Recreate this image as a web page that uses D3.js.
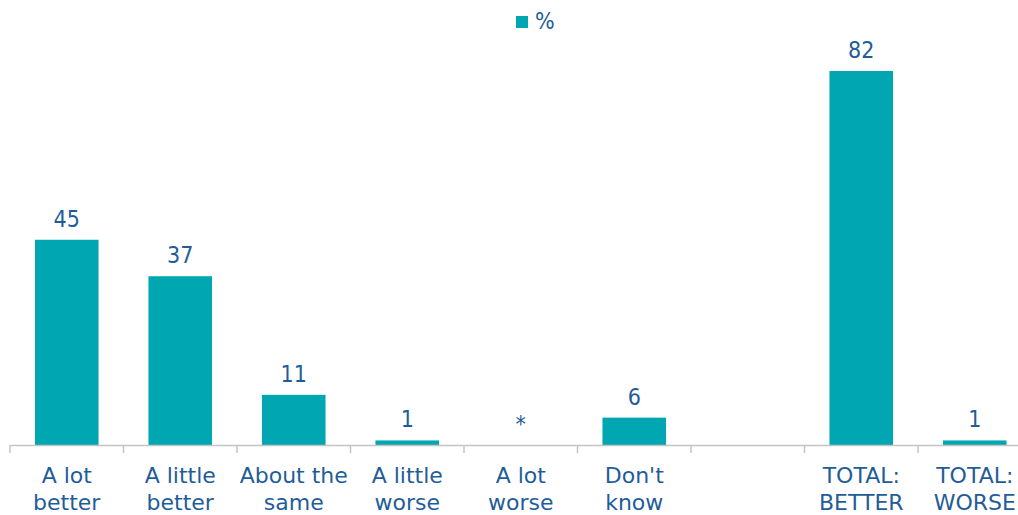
<!DOCTYPE html>
<html>
<head>
<meta charset="utf-8">
<script src="https://cdn.jsdelivr.net/npm/d3@7"></script>
<style>
  html, body { margin: 0; padding: 0; background: #ffffff; }
  svg { display: block; }
</style>
</head>
<body>
<div id="chart"></div>
<script>
const categories = [
  ["A lot", "better"],
  ["A little", "better"],
  ["About the", "same"],
  ["A little", "worse"],
  ["A lot", "worse"],
  ["Don't", "know"],
  ["", ""],
  ["TOTAL:", "BETTER"],
  ["TOTAL:", "WORSE"]
];
const values = [45, 37, 11, 1, 0, 6, null, 82, 1];
const valueLabels = ["45", "37", "11", "1", "*", "6", "", "82", "1"];
const seriesName = "%";

const W = 1018, H = 515;
const barColor = "#00a6b1";
const textColor = "#1f5d99";
const axisColor = "#c4c4c4";
const font = "'DejaVu Sans', sans-serif";
const fontCond = "'DejaVu Sans Condensed', 'DejaVu Sans', sans-serif";

const svg = d3.select("#chart").append("svg")
  .attr("width", W).attr("height", H);

const ids = categories.map((d, i) => i);
const x = d3.scaleBand().domain(ids).range([10, 1031.5]).paddingInner(0.44).paddingOuter(0.22);
const y = d3.scaleLinear().domain([0, 82]).range([445, 71]);

// bars
svg.append("g").selectAll("rect")
  .data(ids.filter(i => values[i] !== null && values[i] > 0))
  .join("rect")
  .attr("x", i => x(i))
  .attr("width", x.bandwidth())
  .attr("y", i => y(values[i]))
  .attr("height", i => y(0) - y(values[i]))
  .attr("fill", barColor);

// axis line and ticks at band boundaries
const step = x.step();
const start = x.range()[0];
const ax = svg.append("g").attr("stroke", axisColor).attr("stroke-width", 1.5);
ax.append("line").attr("x1", start).attr("x2", W).attr("y1", y(0) + 0.5).attr("y2", y(0) + 0.5);
d3.range(categories.length + 1).forEach(k => {
  const xx = start + k * step;
  ax.append("line").attr("x1", xx).attr("x2", xx).attr("y1", y(0)).attr("y2", y(0) + 8);
});

// value labels
svg.append("g").selectAll("text")
  .data(ids.filter(i => valueLabels[i] !== ""))
  .join("text")
  .attr("x", i => x(i) + x.bandwidth() / 2)
  .attr("y", i => y(values[i]) - 13)
  .attr("text-anchor", "middle")
  .attr("font-family", fontCond)
  .attr("font-size", 23)
  .attr("fill", textColor)
  .text(i => valueLabels[i]);

// category labels
const cl = svg.append("g").selectAll("text")
  .data(ids)
  .join("text")
  .attr("x", i => x(i) + x.bandwidth() / 2)
  .attr("text-anchor", "middle")
  .attr("font-family", font)
  .attr("font-size", 22)
  .attr("fill", textColor);
cl.append("tspan").attr("x", i => x(i) + x.bandwidth() / 2).attr("y", 483).text(i => categories[i][0]);
cl.append("tspan").attr("x", i => x(i) + x.bandwidth() / 2).attr("y", 510).text(i => categories[i][1]);

// legend
const lg = svg.append("g");
lg.append("rect").attr("x", 516).attr("y", 16).attr("width", 12).attr("height", 12).attr("fill", barColor);
lg.append("text").attr("x", 535).attr("y", 29)
  .attr("font-family", fontCond).attr("font-size", 23).attr("fill", textColor).text(seriesName);
</script>
</body>
</html>
